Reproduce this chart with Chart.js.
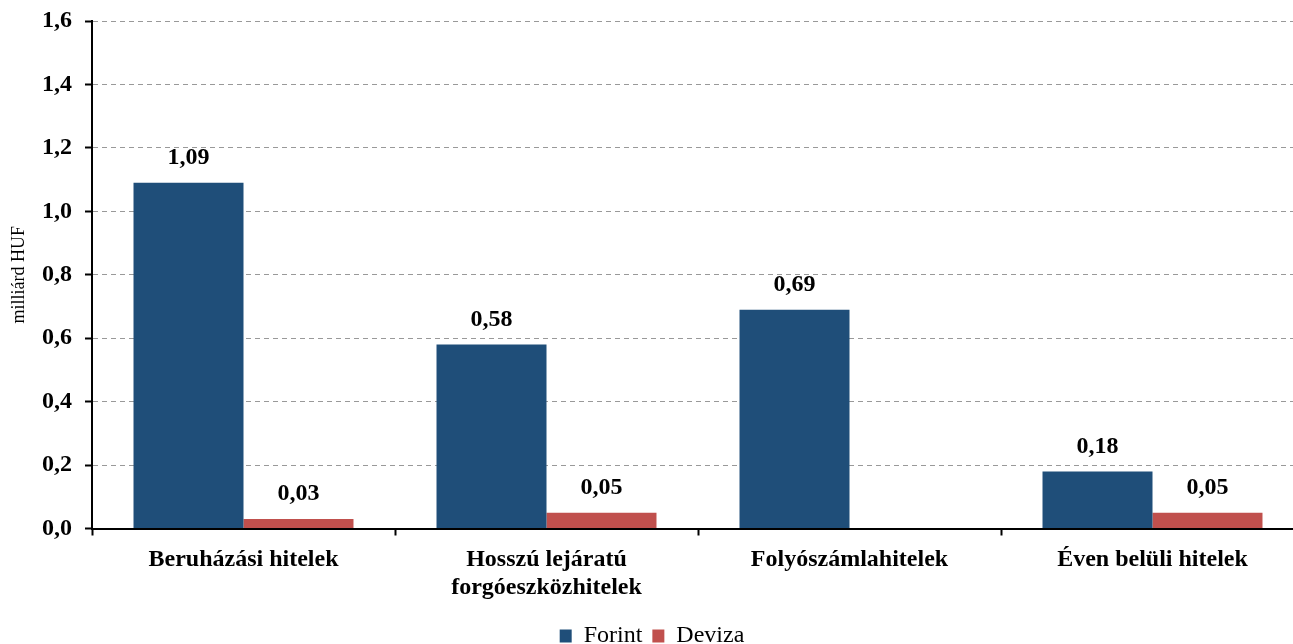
<!DOCTYPE html>
<html>
<head>
<meta charset="utf-8">
<script src="https://cdn.jsdelivr.net/npm/chart.js@4/dist/chart.umd.min.js"></script>
<style>
    html, body { margin: 0; padding: 0; background: #fff; overflow: hidden; }
    #wrap { width: 1310px; height: 658px; }
</style>
</head>
<body>
<div id="wrap"><canvas id="hitelChart" width="1310" height="658"></canvas></div>
<script>
const categories = [
    'Beruházási hitelek',
    ['Hosszú lejáratú', 'forgóeszközhitelek'],
    'Folyószámlahitelek',
    'Éven belüli hitelek'
];
const forintValues = [1.09, 0.58, 0.69, 0.18];
const devizaValues = [0.03, 0.05, null, 0.05];
const yTicks = [0, 0.2, 0.4, 0.6, 0.8, 1.0, 1.2, 1.4, 1.6];

const FONT = "'Liberation Serif', 'Times New Roman', serif";

const fmt = v => v.toFixed(2).replace('.', ',');

// value labels above the bars
const barLabels = {
    id: 'barLabels',
    afterDatasetsDraw(chart) {
        const ctx = chart.ctx;
        ctx.save();
        ctx.font = 'bold 24px ' + FONT;
        ctx.fillStyle = '#000';
        ctx.textAlign = 'center';
        ctx.textBaseline = 'middle';
        chart.data.datasets.forEach((ds, i) => {
            const meta = chart.getDatasetMeta(i);
            meta.data.forEach((bar, j) => {
                const v = ds.data[j];
                if (v === null || v === undefined) return;
                ctx.fillText(fmt(v), bar.x, bar.y - 25);
            });
        });
        ctx.restore();
    }
};

new Chart(document.getElementById('hitelChart'), {
    type: 'bar',
    data: {
        labels: categories,
        datasets: [
            {
                label: 'Forint',
                data: forintValues,
                backgroundColor: '#1F4E79',
                barPercentage: 1,
                categoryPercentage: 0.726
            },
            {
                label: 'Deviza',
                data: devizaValues,
                backgroundColor: '#C0504D',
                barPercentage: 1,
                categoryPercentage: 0.726
            }
        ]
    },
    options: {
        responsive: false,
        animation: false,
        layout: { padding: { top: 21, right: 6, left: 0, bottom: 0 } },
        scales: {
            x: {
                grid: {
                    drawOnChartArea: false,
                    tickLength: 7,
                    tickColor: '#000',
                    tickWidth: 2
                },
                border: { color: '#000', width: 2 },
                ticks: {
                    color: '#000',
                    padding: 10,
                    maxRotation: 0,
                    font: { family: FONT, size: 24, weight: 'bold', lineHeight: 1.17 }
                },
                afterFit(scale) { scale.height = 85.5; }
            },
            y: {
                min: 0,
                max: 1.6,
                afterBuildTicks(scale) { scale.ticks = yTicks.map(v => ({ value: v })); },
                grid: {
                    color: '#999',
                    lineWidth: 1,
                    tickLength: 7,
                    tickColor: '#000',
                    tickWidth: 2
                },
                border: { color: '#000', width: 2, dash: [5, 4] },
                ticks: {
                    color: '#000',
                    padding: 13,
                    font: { family: FONT, size: 24, weight: 'bold' },
                    callback: v => v.toFixed(1).replace('.', ',')
                },
                title: {
                    display: true,
                    text: 'milliárd HUF',
                    color: '#000',
                    padding: { top: 8, bottom: 0 },
                    font: { family: FONT, size: 18 }
                },
                afterFit(scale) {
                    scale.width = 92;
                    scale.paddingTop = 0; // top of plot comes from layout padding only
                }
            }
        },
        plugins: {
            legend: {
                position: 'bottom',
                labels: {
                    color: '#000',
                    boxWidth: 12,
                    boxHeight: 13,
                    padding: 10,
                    font: { family: FONT, size: 24 }
                }
            },
            tooltip: { enabled: false }
        }
    },
    plugins: [barLabels]
});
</script>
</body>
</html>
